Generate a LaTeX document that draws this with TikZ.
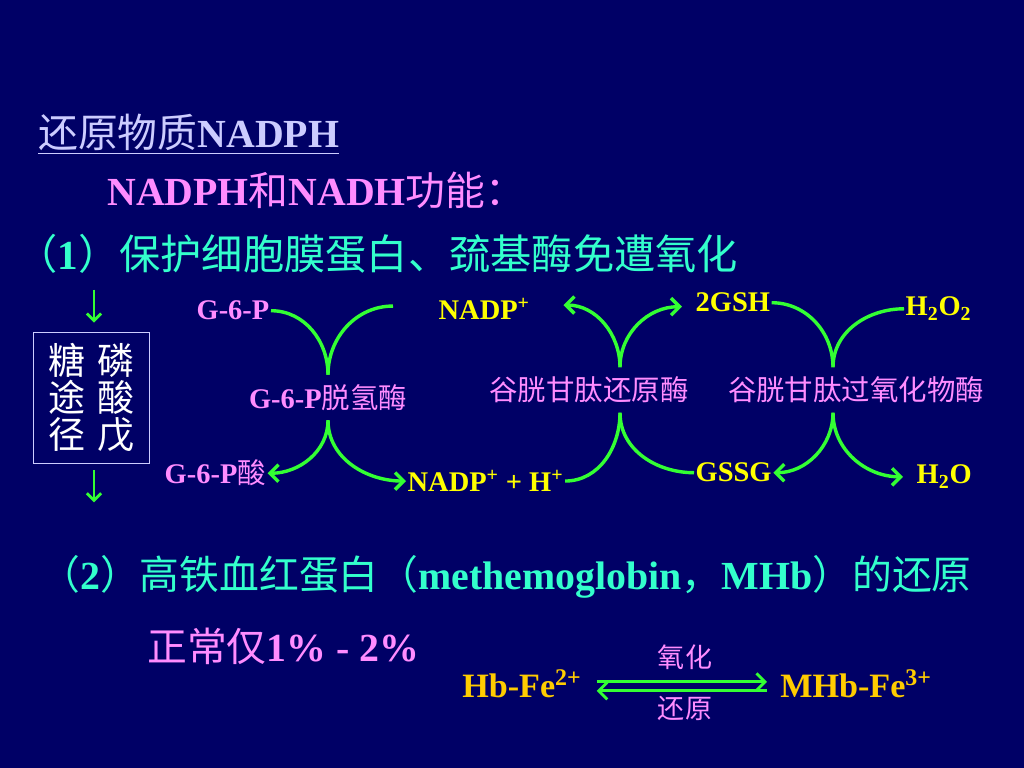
\documentclass[tikz,border=0pt]{standalone}
\usepackage{fontspec}
\setmainfont{Liberation Serif}
\newfontfamily\cjk{Noto Sans CJK SC}
\usetikzlibrary{arrows.meta,calc,positioning}

\definecolor{slidebg}{RGB}{0,0,102}
\definecolor{lavender}{RGB}{204,204,255}
\definecolor{pinktxt}{RGB}{255,140,255}
\definecolor{cyantxt}{RGB}{51,255,204}
\definecolor{yellowtxt}{RGB}{255,255,0}
\definecolor{goldtxt}{RGB}{255,204,0}
\definecolor{arrowgreen}{RGB}{51,255,51}

\newcommand\zh[1]{{\cjk\mdseries #1}}
\newcommand\fsz[1]{\fontsize{#1}{#1}\selectfont}

\begin{document}
\begin{tikzpicture}[x=0.703125pt,y=0.703125pt,
	txt/.style={inner sep=0pt,anchor=base west},
	lbl/.style={inner sep=1pt,font=\fsz{20}\bfseries},
	enz/.style={inner sep=0pt,minimum height=31.6pt,font=\fsz{20},text=pinktxt},
	flow/.style={draw=arrowgreen,line width=2.4pt},
	arrowed/.style={-{Straight Barb[length=6pt,width=12pt]}},
	downarr/.style={draw=arrowgreen,line width=2pt,-{Straight Barb[length=5pt,width=10pt]}}]
	\fill[slidebg] (0,0) rectangle (1024,768);
	\useasboundingbox (0,0) rectangle (1024,768);

	% text lines
	\node (title) [txt,text=lavender,font=\fsz{28}] at (38,620) {\underline{\zh{还原物质}\textbf{NADPH}}};
	\node (func) [txt,text=pinktxt,font=\fsz{28}\bfseries] at (107,562) {NADPH\zh{和}NADH\zh{功能：}};
	\node (item1) [txt,text=cyantxt,font=\fsz{29}] at (16,498) {\zh{（}\textbf{1}\zh{）保护细胞膜蛋白、巯基酶免遭氧化}};
	\node (item2) [txt,text=cyantxt,font=\fsz{28}] at (40,178) {\zh{（}\textbf{2}\zh{）高铁血红蛋白（}\textbf{methemoglobin}\zh{，}\textbf{MHb}\zh{）的还原}};
	\node (norm) [txt,text=pinktxt,font=\fsz{28}] at (147,106) {\zh{正常仅}\textbf{1\% - 2\%}};

	% pentose phosphate box
	\node (box) [draw=lavender,line width=0.8pt,minimum width=82pt,minimum height=92.5pt,
		inner sep=0pt,text=white,font=\fsz{26},align=center] at (91.5,370)
		{\zh{糖\hspace{8pt}磷}\\\zh{途\hspace{8pt}酸}\\\zh{径\hspace{8pt}戊}};
	\draw[downarr] ($(box.north)+(2.5,42)$) -- ($(box.north)+(2.5,9)$);
	\draw[downarr] ($(box.south)+(2.5,-6)$) -- ($(box.south)+(2.5,-38)$);

	% substrates and products
	\node (g6p) [lbl,text=pinktxt,anchor=base east] at (271,448) {G-6-P};
	\node (nadp) [lbl,text=yellowtxt,anchor=base west] at (437,448) {NADP\textsuperscript{+}};
	\node (gsh) [lbl,text=yellowtxt,anchor=base west] at (694,456) {2GSH};
	\node (h2o2) [lbl,text=yellowtxt,anchor=base west] at (904,452) {H\textsubscript{2}O\textsubscript{2}};
	\node (g6pa) [lbl,text=pinktxt,anchor=base west] at (163,284) {G-6-P\zh{酸}};
	\node (nadph) [lbl,text=yellowtxt,anchor=base west] at (406,276) {NADP\textsuperscript{+} + H\textsuperscript{+}};
	\node (gssg) [lbl,text=yellowtxt,anchor=base west] at (694,286) {GSSG};
	\node (h2o) [lbl,text=yellowtxt,anchor=base west] at (915,284) {H\textsubscript{2}O};

	% enzymes
	\node (g6pd) [enz] at (328,370.5) {\textbf{G-6-P}\zh{脱氢酶}};
	\node (gr) [enz] at (589,378) {\zh{谷胱甘肽还原酶}};
	\node (gpx) [enz] at (856,378) {\zh{谷胱甘肽过氧化物酶}};
	\coordinate (c2t) at ($(gr.north)+(31,0)$);
	\coordinate (c2b) at ($(gr.south)+(31,0)$);
	\coordinate (c3t) at ($(gpx.north)+(-23,0)$);
	\coordinate (c3b) at ($(gpx.south)+(-23,0)$);

	\draw[flow] (g6p.east) to[out=0,in=90] (g6pd.north);
	\draw[flow] (g6pd.north) to[out=90,in=180] ($(nadp.west)+(-44,3)$);
	\draw[flow,arrowed] (g6pd.south) to[out=-90,in=0] (g6pa.east);
	\draw[flow,arrowed] (g6pd.south) to[out=-90,in=180] (nadph.west);

	\draw[flow,arrowed] (c2t) to[out=90,in=0] ($(nadp.east)+(32,4)$);
	\draw[flow,arrowed] (c2t) to[out=90,in=180] ($(gsh.west)+(-12,-4)$);
	\draw[flow] (c2b) to[out=-90,in=0] (nadph.east);
	\draw[flow] (c2b) to[out=-90,in=180] (gssg.west);

	\draw[flow] (gsh.east) to[out=0,in=90] (c3t);
	\draw[flow] (c3t) to[out=90,in=180] (h2o2.west);
	\draw[flow,arrowed] (c3b) to[out=-90,in=0] (gssg.east);
	\draw[flow,arrowed] (c3b) to[out=-90,in=180] ($(h2o.west)+(-12,0)$);

	% methemoglobin
	\node (hb) [txt,text=goldtxt,font=\fsz{24}\bfseries] at (462,70) {Hb-Fe\textsuperscript{2+}};
	\node (mhb) [txt,text=goldtxt,font=\fsz{24}\bfseries] at (780,70) {MHb-Fe\textsuperscript{3+}};
	\draw[flow,line width=2pt,arrowed] ($(hb.east)+(15,2)$) -- ($(mhb.west)+(-13,2)$);
	\draw[flow,line width=2pt,arrowed] ($(mhb.west)+(-13,-7)$) -- ($(hb.east)+(15,-7)$);
	\node (ox) [text=pinktxt,font=\fsz{19}] at (685,111) {\zh{氧化}};
	\node (red) [text=pinktxt,font=\fsz{19}] at (685,60) {\zh{还原}};
\end{tikzpicture}
\end{document}
